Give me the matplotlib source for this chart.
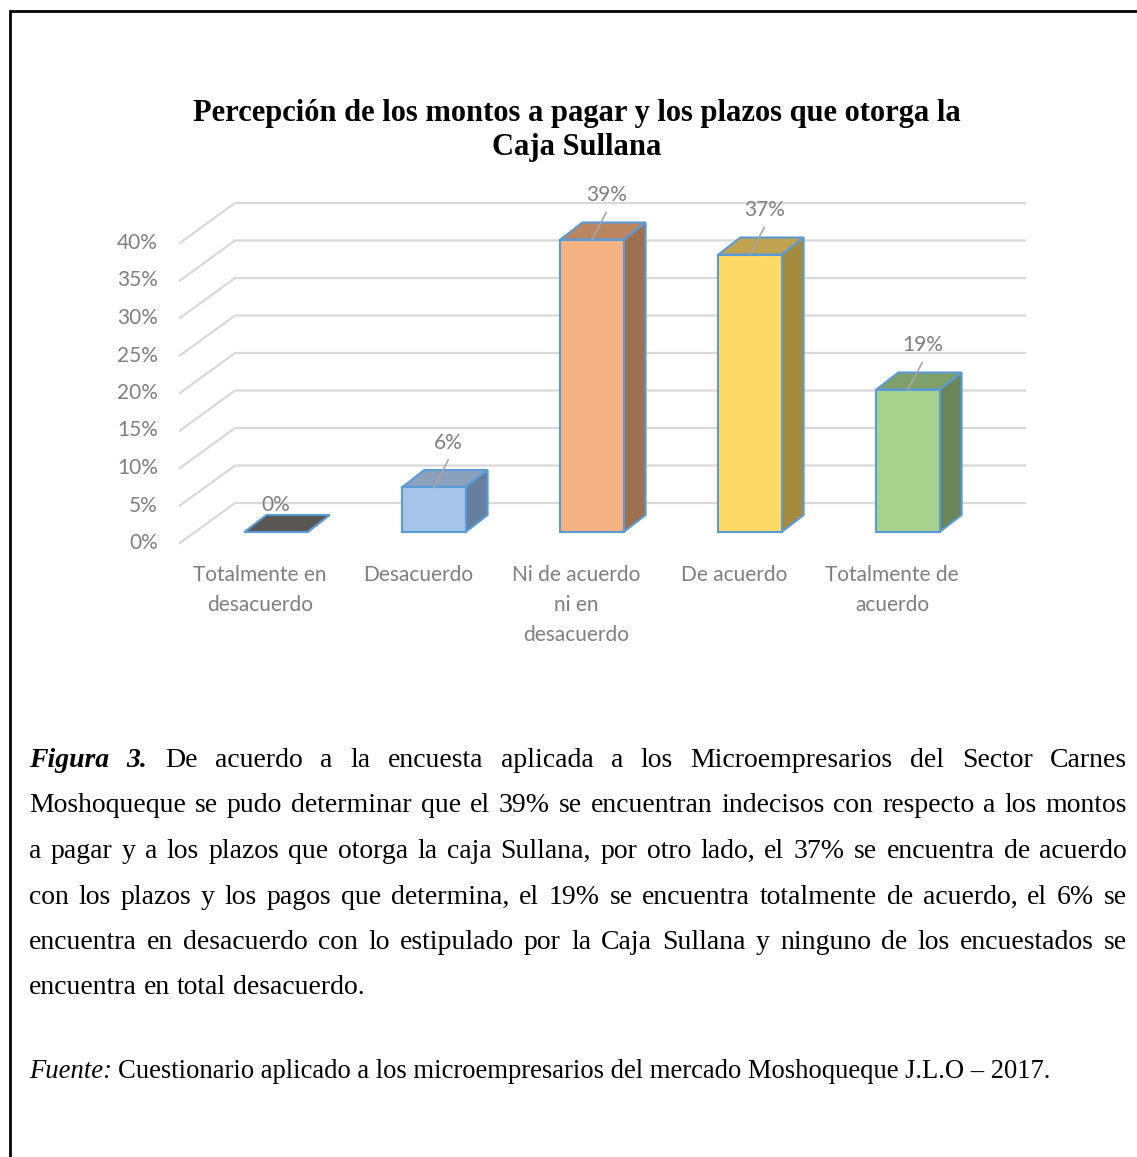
import matplotlib
matplotlib.use("Agg")
import matplotlib.pyplot as plt
from matplotlib.patches import Polygon, Rectangle
from matplotlib.lines import Line2D

# datos
categorias = ["Totalmente en\ndesacuerdo", "Desacuerdo", "Ni de acuerdo\nni en\ndesacuerdo",
              "De acuerdo", "Totalmente de\nacuerdo"]
porcentajes = [0, 6, 39, 37, 19]
marcas_y = [0, 5, 10, 15, 20, 25, 30, 35, 40]

col_frente = ["#5a5654", "#a6c4e9", "#f4b183", "#ffd966", "#a9d18e"]
col_lado = ["#4a4644", "#667f9e", "#9c7050", "#a38b40", "#6b855a"]
col_tapa = ["#5a5654", "#8aa0bb", "#ba8561", "#c0a350", "#7f9f6b"]

titulo = ["Percepción de los montos a pagar y los plazos que otorga la", "Caja Sullana"]
parrafo = [
    "Figura 3. De acuerdo a la encuesta aplicada a los Microempresarios del Sector Carnes",
    "Moshoqueque se pudo determinar que el 39% se encuentran indecisos con respecto a los montos",
    "a pagar y a los plazos que otorga la caja Sullana, por otro lado, el 37% se encuentra de acuerdo",
    "con los plazos y los pagos que determina, el 19% se encuentra totalmente de acuerdo, el 6% se",
    "encuentra en desacuerdo con lo estipulado por la Caja Sullana y ninguno de los encuestados se",
    "encuentra en total desacuerdo.",
]
fuente_lbl = "Fuente:"
fuente_txt = "Cuestionario aplicado a los microempresarios del mercado Moshoqueque J.L.O – 2017."

W, H = 1137, 1157
fig = plt.figure(figsize=(W / 100, H / 100), dpi=100)
fig.patch.set_facecolor("white")

gris = "#7f7f7f"
sans = ["Lato", "DejaVu Sans"]
serif = ["Liberation Serif", "DejaVu Serif"]

# ejes del grafico (caja en pixeles: x 150-1040, y 190-560)
ax = fig.add_axes([150 / W, 1 - 560 / H, 890 / W, 370 / H])
ax.set_xlim((150 - 276) / 158, (1040 - 276) / 158)
ax.set_ylim((532 - 560) / 7.5, (532 - 190) / 7.5)
ax.axis("off")

# profundidad 3D
dx, dy = 22 / 158, 17 / 7.5
w = 0.2

# rejilla (suelo en perspectiva + pared trasera)
x_fr, x_at, x_fin = (180 - 276) / 158, (235 - 276) / 158, (1025 - 276) / 158
for v in marcas_y:
    ax.plot([x_fr, x_at, x_fin], [v - 11 / 7.5, v + 29 / 7.5, v + 29 / 7.5],
            color="#d9d9d9", lw=1.6, zorder=1, clip_on=False, solid_joinstyle="miter")
    ax.text(x_fr - 0.14, v - 11 / 7.5, f"{v}%", ha="right", va="center",
            fontsize=15, color=gris, family=sans)

borde = "#5b9bd5"
for i, v in enumerate(porcentajes):
    lado = Polygon([(i + w, 0), (i + w + dx, dy), (i + w + dx, v + dy), (i + w, v)],
                   closed=True, fc=col_lado[i], ec=borde, lw=1.5, zorder=3, joinstyle="miter")
    tapa = Polygon([(i - w, v), (i + w, v), (i + w + dx, v + dy), (i - w + dx, v + dy)],
                   closed=True, fc=col_tapa[i], ec=borde, lw=1.5, zorder=4, joinstyle="miter")
    frente = Rectangle((i - w, 0), 2 * w, v, fc=col_frente[i], ec=borde, lw=1.5, zorder=5,
                       joinstyle="miter")
    ax.add_patch(lado)
    ax.add_patch(tapa)
    ax.add_patch(frente)
    if v > 0:
        ax.plot([i, i + 0.09], [v, v + 3.6], color="#a6a6a6", lw=1.2, zorder=6)
        ax.text(i + 0.09, v + 5.9, f"{v}%", ha="center", va="center", fontsize=15,
                color=gris, family=sans, zorder=7)
    else:
        ax.text(i, v + 3.6, f"{v}%", ha="center", va="center", fontsize=15,
                color=gris, family=sans, zorder=7)

# etiquetas de categoria
for i, cat in enumerate(categorias):
    for k, linea in enumerate(cat.split("\n")):
        ax.text(i - 0.1, -5.73 - k * 4.0, linea, ha="center", va="center", fontsize=15,
                color=gris, family=sans, clip_on=False)

# titulo
for k, linea in enumerate(titulo):
    fig.text(576.5 / W, 1 - (113 + 34 * k) / H, linea, ha="center", va="center",
             fontsize=22, fontweight="bold", family=serif, color="black")

# parrafo justificado
ren = fig.canvas.get_renderer()
x0, x1 = 29, 1127
base0, paso = 767, 45.5
esp_normal = 20 * 100 / 72 * 0.25
for k, linea in enumerate(parrafo):
    y = 1 - (base0 + k * paso) / H
    palabras = linea.split(" ")
    objs = []
    for j, p in enumerate(palabras):
        negrita = (k == 0 and j < 2)
        objs.append(fig.text(0, y, p, fontsize=20, family=serif, va="baseline",
                             fontweight="bold" if negrita else "normal",
                             fontstyle="italic" if negrita else "normal", color="black"))
    anchos = [o.get_window_extent(ren).width for o in objs]
    if k == len(parrafo) - 1:
        hueco = esp_normal
    else:
        hueco = (x1 - x0 - sum(anchos)) / (len(objs) - 1)
    x = x0
    for o, a in zip(objs, anchos):
        o.set_x(x / W)
        x += a + hueco

# fuente
yb = 1 - 1078 / H
t1 = fig.text(x0 / W, yb, fuente_lbl, fontsize=19.2, family=serif, fontstyle="italic",
              va="baseline")
a1 = t1.get_window_extent(ren).width
fig.text((x0 + a1 + 6) / W, yb, fuente_txt, fontsize=19.2, family=serif, va="baseline")

# marco
fig.add_artist(Line2D([9.5 / W, 9.5 / W, 1.01], [-0.01, 1 - 10.5 / H, 1 - 10.5 / H],
                      color="black", lw=2.0, transform=fig.transFigure,
                      solid_joinstyle="miter"))

fig.savefig("out.png", dpi=100, facecolor="white")
